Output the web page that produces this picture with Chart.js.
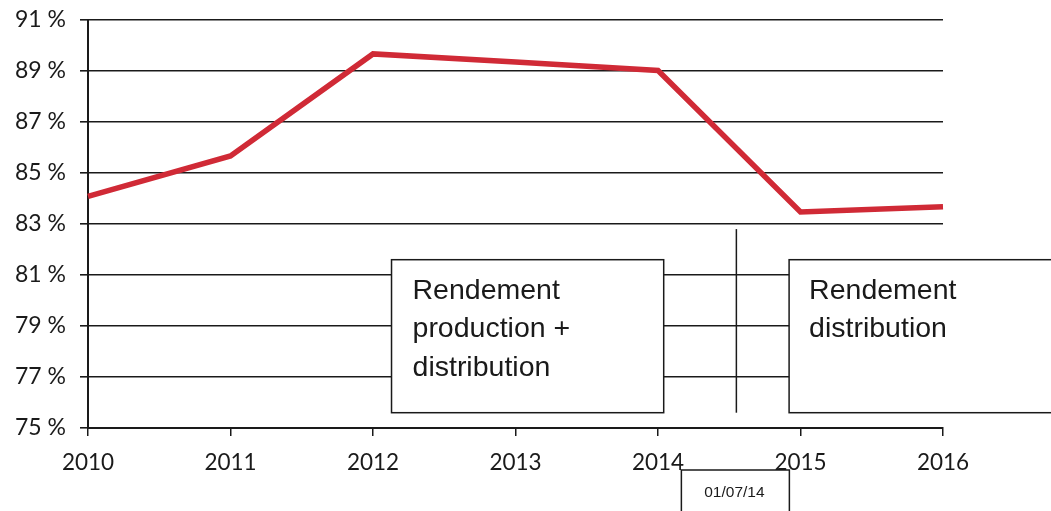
<!DOCTYPE html>
<html>
<head>
<meta charset="utf-8">
<script src="https://cdn.jsdelivr.net/npm/chart.js@4/dist/chart.umd.min.js"></script>
<style>
html,body{margin:0;padding:0;background:#fff;}
#wrap{width:1051px;height:511px;position:relative;}
</style>
</head>
<body>
<div id="wrap"><canvas id="c" width="1051" height="511"></canvas></div>
<script>
const years = ['2010','2011','2012','2013','2014','2015','2016'];
const rendement = [84.08, 85.67, 89.67, 89.35, 89.02, 83.47, 83.68];
const yMin = 75, yMax = 91, yStep = 2;
const boxTexts = [
  ['Rendement', 'production +', 'distribution'],
  ['Rendement', 'distribution']
];
const dateLabel = '01/07/14';

const annot = {
  id: 'annot',
  afterDraw(chart) {
    const ctx = chart.ctx;
    const x = chart.scales.x, y = chart.scales.y;
    const step = x.getPixelForValue(1) - x.getPixelForValue(0);
    ctx.save();
    ctx.lineWidth = 1.5;
    ctx.strokeStyle = '#1a1a1a';
    ctx.fillStyle = '#fff';
    const top = y.getPixelForValue(81.6), bot = y.getPixelForValue(75.6);
    // box 1
    const b1l = x.getPixelForValue(2) + 0.13 * step, b1r = x.getPixelForValue(4) + 0.04 * step;
    ctx.fillRect(b1l, top, b1r - b1l, bot - top);
    ctx.strokeRect(b1l, top, b1r - b1l, bot - top);
    // box 2
    const b2l = x.getPixelForValue(4) + 0.92 * step, b2r = 1050;
    ctx.fillRect(b2l, top, b2r - b2l, bot - top);
    ctx.strokeRect(b2l, top, b2r - b2l + 5, bot - top);
    // vertical divider at 01/07/14
    const vx = x.getPixelForValue(4) + 0.55 * step;
    ctx.beginPath();
    ctx.moveTo(vx, y.getPixelForValue(82.8));
    ctx.lineTo(vx, bot);
    ctx.stroke();
    // texts
    ctx.fillStyle = '#1a1a1a';
    ctx.font = '28.5px "Liberation Sans", Arial, sans-serif';
    ctx.textBaseline = 'alphabetic';
    ctx.textAlign = 'left';
    boxTexts[0].forEach((t, i) => ctx.fillText(t, b1l + 21, top + 39 + i * 38.5));
    boxTexts[1].forEach((t, i) => ctx.fillText(t, b2l + 20, top + 39 + i * 38.5));
    // date box
    const dl = vx - 55, dr = vx + 53;
    ctx.fillStyle = '#fff';
    ctx.fillRect(dl, 470, dr - dl, 50);
    ctx.strokeRect(dl, 470, dr - dl, 50);
    ctx.fillStyle = '#1a1a1a';
    ctx.font = '15.5px "Liberation Sans", Arial, sans-serif';
    ctx.textAlign = 'center';
    ctx.fillText(dateLabel, (dl + dr) / 2 - 1, 497);
    ctx.restore();
  }
};

new Chart(document.getElementById('c'), {
  type: 'line',
  data: {
    labels: years,
    datasets: [{
      data: rendement,
      borderColor: '#d02a36',
      borderWidth: 5.5,
      pointRadius: 0,
      tension: 0,
      fill: false
    }]
  },
  options: {
    responsive: false,
    animation: false,
    devicePixelRatio: 1,
    layout: { padding: { left: 0, right: 108, top: 20, bottom: 0 } },
    plugins: { legend: { display: false }, tooltip: { enabled: false } },
    scales: {
      x: {
        offset: false,
        afterFit(s) { s.height = 83; s.paddingLeft = 0; s.paddingRight = 0; },
        grid: { drawOnChartArea: false, drawTicks: true, tickLength: 8, color: '#1a1a1a', lineWidth: 1.5 },
        border: { display: true, color: '#1a1a1a', width: 2 },
        ticks: { color: '#1a1a1a', font: { family: 'Lato, "Open Sans", sans-serif', size: 22.5 }, padding: 13, maxRotation: 0 }
      },
      y: {
        min: yMin, max: yMax,
        afterFit(s) { s.width = 88; s.paddingTop = 0; s.paddingBottom = 0; },
        grid: { color: '#1a1a1a', lineWidth: 1.6, tickLength: 8 },
        border: { display: true, color: '#1a1a1a', width: 2 },
        ticks: {
          stepSize: yStep,
          color: '#1a1a1a',
          font: { family: 'Lato, "Open Sans", sans-serif', size: 23 },
          padding: 14,
          callback: v => v + ' %'
        }
      }
    }
  },
  plugins: [annot]
});
</script>
</body>
</html>
